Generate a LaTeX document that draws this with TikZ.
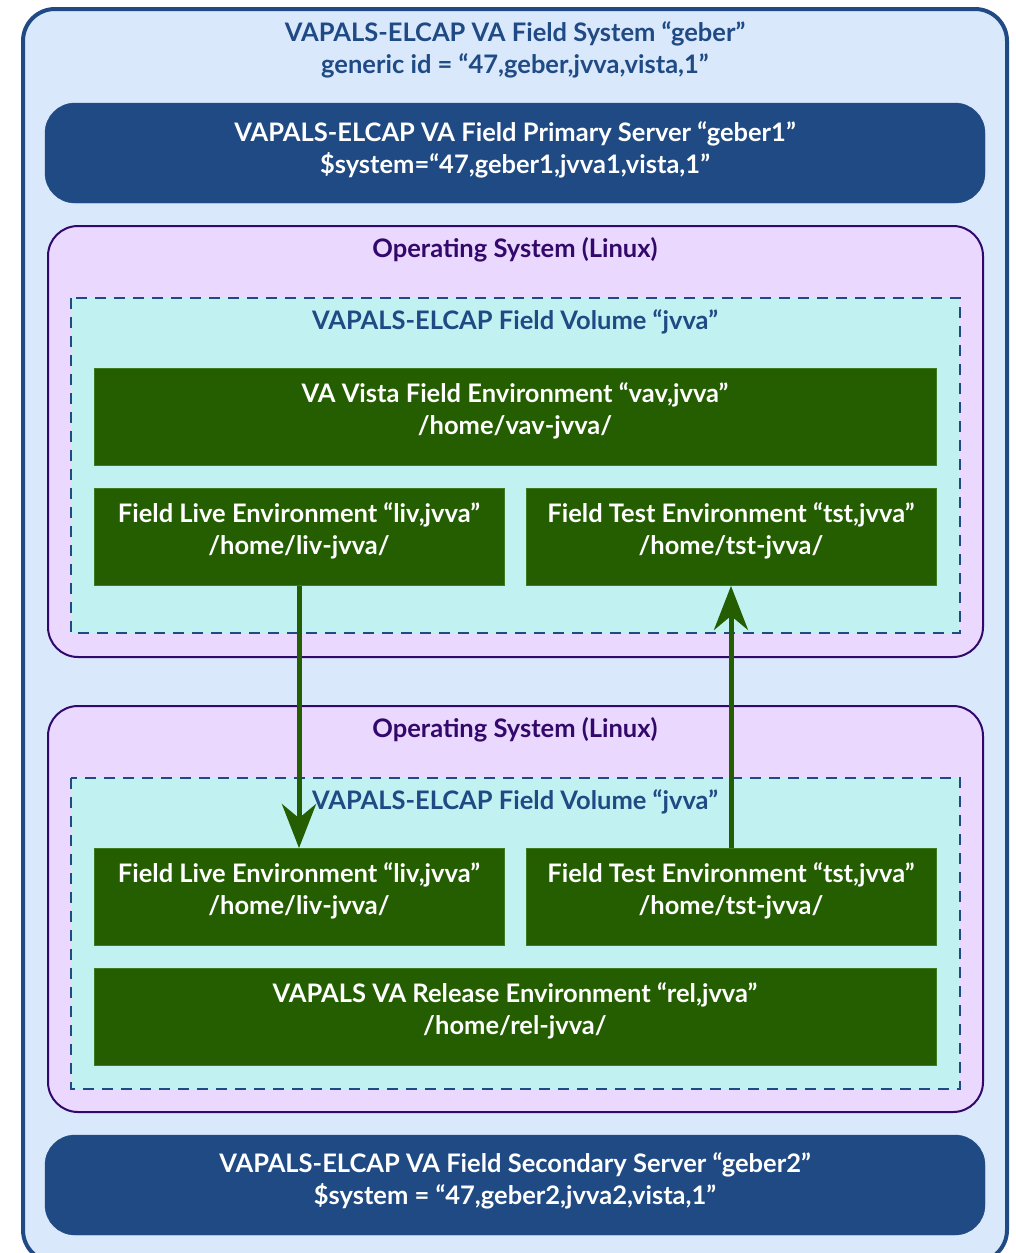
\documentclass[tikz,border=0pt]{standalone}
\usepackage{fontspec}
\setmainfont{Lato}
\usetikzlibrary{arrows.meta}
\definecolor{outerfill}{HTML}{DAE8FC}
\definecolor{darkblue}{HTML}{1F4A84}
\definecolor{osfill}{HTML}{EAD8FE}
\definecolor{osline}{HTML}{33086B}
\definecolor{volfill}{HTML}{C1F1F1}
\definecolor{envgreen}{HTML}{245E00}
\definecolor{envedge}{HTML}{3E7A1E}
\tikzset{
  txt/.style={font=\fontsize{25.5}{32}\selectfont\bfseries, align=center, inner sep=0pt},
  serverbox/.style={fill=darkblue, draw=darkblue, rounded corners=30pt},
  osbox/.style={fill=osfill, draw=osline, line width=2pt, rounded corners=30pt},
  volbox/.style={fill=volfill, draw=darkblue, line width=2.5pt, dash pattern=on 11pt off 8pt},
  envbox/.style={fill=envgreen, draw=envedge, line width=0.8pt},
  wtxt/.style={txt, text=white},
  flow/.style={draw=envgreen, line width=5pt, -{Stealth[length=44pt,width=34pt,inset=14pt]}},
}
\begin{document}
\begin{tikzpicture}[x=1pt,y=-1pt]
\useasboundingbox (0,0) rectangle (1015,1253);
% outer system
\draw[fill=outerfill, draw=darkblue, line width=4pt, rounded corners=32pt] (23,9) rectangle (1007,1262);
\node[txt, text=darkblue] (systitle) at (515,50) {VAPALS-ELCAP VA Field System “geber”\\generic id = “47,geber,jvva,vista,1”};
% primary server
\node[serverbox, minimum width=940pt, minimum height=100pt] (prim) at (515,153) {};
\node[wtxt] (primtxt) at ([yshift=3pt]prim.center) {VAPALS-ELCAP VA Field Primary Server “geber1”\\\$system=“47,geber1,jvva1,vista,1”};
% OS 1
\draw[osbox] (48,226) rectangle (983,657);
\node[txt, text=osline] (os1title) at (515,250) {Operating System (Linux)};
\draw[volbox] (71,298) rectangle (960,633);
\node[txt, text=darkblue] (vol1title) at (515,322) {VAPALS-ELCAP Field Volume “jvva”};
\node[envbox, minimum width=842pt, minimum height=97pt] (vav) at (515,417) {};
\node[wtxt] (vavtxt) at ([yshift=6pt]vav.center) {VA Vista Field Environment “vav,jvva”\\/home/vav-jvva/};
\node[envbox, minimum width=410pt, minimum height=97pt] (liv1) at (299,537) {};
\node[wtxt] (liv1txt) at ([yshift=6pt]liv1.center) {Field Live Environment “liv,jvva”\\/home/liv-jvva/};
\node[envbox, minimum width=410pt, minimum height=97pt] (tst1) at (731,537) {};
\node[wtxt] (tst1txt) at ([yshift=6pt]tst1.center) {Field Test Environment “tst,jvva”\\/home/tst-jvva/};
% OS 2
\draw[osbox] (48,706) rectangle (983,1112);
\node[txt, text=osline] (os2title) at (515,730) {Operating System (Linux)};
\draw[volbox] (71,778) rectangle (960,1089);
\node[txt, text=darkblue] (vol2title) at (515,802) {VAPALS-ELCAP Field Volume “jvva”};
\node[envbox, minimum width=410pt, minimum height=97pt] (liv2) at (299,897) {};
\node[wtxt] (liv2txt) at ([yshift=6pt]liv2.center) {Field Live Environment “liv,jvva”\\/home/liv-jvva/};
\node[envbox, minimum width=410pt, minimum height=97pt] (tst2) at (731,897) {};
\node[wtxt] (tst2txt) at ([yshift=6pt]tst2.center) {Field Test Environment “tst,jvva”\\/home/tst-jvva/};
\node[envbox, minimum width=842pt, minimum height=97pt] (rel) at (515,1017) {};
\node[wtxt] (reltxt) at ([yshift=6pt]rel.center) {VAPALS VA Release Environment “rel,jvva”\\/home/rel-jvva/};
% secondary server
\node[serverbox, minimum width=940pt, minimum height=100pt] (sec) at (515,1185) {};
\node[wtxt] (sectxt) at ([yshift=4pt]sec.center) {VAPALS-ELCAP VA Field Secondary Server “geber2”\\\$system = “47,geber2,jvva2,vista,1”};
% arrows
\draw[flow] (liv1.south) -- (liv2.north);
\draw[flow] (tst2.north) -- (tst1.south);
\end{tikzpicture}
\end{document}
